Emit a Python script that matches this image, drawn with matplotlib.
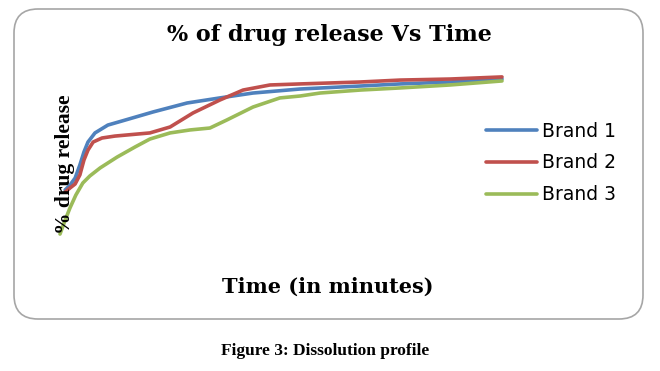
import matplotlib
import matplotlib.pyplot as plt
from matplotlib.patches import FancyBboxPatch
from matplotlib.transforms import IdentityTransform

matplotlib.use("Agg")

# dissolution profile, values (time in minutes, % released)
blue_t = [1.4, 2.7, 4.1, 5.4, 6.5, 7.6, 9.5, 13.0, 16.8, 25.3, 34.5, 43.4,
          52.4, 65.2, 81.5, 92.3, 105.9, 120]
blue_p = [34.3, 37.1, 41.1, 48.6, 56.0, 61.7, 66.9, 71.4, 73.7, 78.9, 84.0, 86.9,
          89.7, 92.0, 93.7, 94.9, 96.0, 97.7]

red_t = [1.4, 2.7, 4.1, 5.4, 6.5, 7.6, 9.0, 11.4, 14.9, 24.4, 29.9, 36.1, 43.4,
         49.7, 57.0, 65.2, 81.5, 92.3, 105.9, 120]
red_p = [33.1, 35.4, 37.7, 42.9, 51.4, 57.1, 61.7, 64.0, 65.1, 66.9, 70.3, 78.3, 85.7,
         91.4, 94.3, 94.9, 96.0, 97.1, 97.7, 98.9]

green_t = [0, 1.4, 2.7, 4.3, 6.2, 8.1, 10.9, 15.5, 20.4, 24.4, 29.9, 35.3, 40.7,
           45.3, 52.4, 59.7, 65.2, 70.6, 81.5, 92.3, 105.9, 120]
green_p = [9.1, 17.1, 24.0, 31.4, 38.3, 42.3, 46.9, 53.1, 58.9, 63.4, 66.9, 68.6, 69.7,
           74.3, 81.7, 86.9, 88.0, 89.7, 91.4, 92.6, 94.3, 96.6]

series = [
    ("Brand 1", blue_t, blue_p, "#4f81bd"),
    ("Brand 2", red_t, red_p, "#c0504d"),
    ("Brand 3", green_t, green_p, "#9bbb59"),
]

serif = "Liberation Serif"
wide_serif = "DejaVu Serif"

fig = plt.figure(figsize=(6.6, 3.71), dpi=100)

# rounded chart frame (display pixels), kept behind the axes
frame = FancyBboxPatch(
    (14, 52), 629, 310,
    boxstyle="round,pad=0,rounding_size=24",
    transform=IdentityTransform(),
    facecolor="white", edgecolor="#a6a6a6", linewidth=1.2, zorder=-5,
)
fig.patches.append(frame)

ax = fig.add_axes([60 / 660, 121 / 371, 442 / 660, 175 / 371])
ax.patch.set_visible(False)
for name, t, p, c in series:
    ax.plot(t, p, color=c, linewidth=2.6, label=name, clip_on=False,
            solid_capstyle="round", solid_joinstyle="round")
ax.set_xlim(0, 120)
ax.set_ylim(0, 100)
ax.axis("off")

fig.text(329 / 660, 1 - 35 / 371, "% of drug release Vs Time", ha="center", va="center",
         fontfamily=wide_serif, fontweight="bold", fontsize=16, zorder=5)
fig.text(328 / 660, 1 - 287 / 371, "Time (in minutes)", ha="center", va="center",
         fontfamily=wide_serif, fontweight="bold", fontsize=15, zorder=5)
fig.text(65 / 660, 1 - 164 / 371, "% drug release", rotation=90, ha="center", va="center",
         fontfamily=serif, fontweight="bold", fontsize=15.5, zorder=5)
fig.text(325 / 660, 1 - 351 / 371, "Figure 3: Dissolution profile", ha="center", va="center",
         fontfamily=serif, fontweight="bold", fontsize=12.5)

fig.legend(loc="center left", bbox_to_anchor=(469 / 660, 1 - 163 / 371),
           frameon=False, fontsize=13.5, handlelength=2.7, handletextpad=0.3,
           labelspacing=0.68)

fig.savefig("out.png", dpi=100)
